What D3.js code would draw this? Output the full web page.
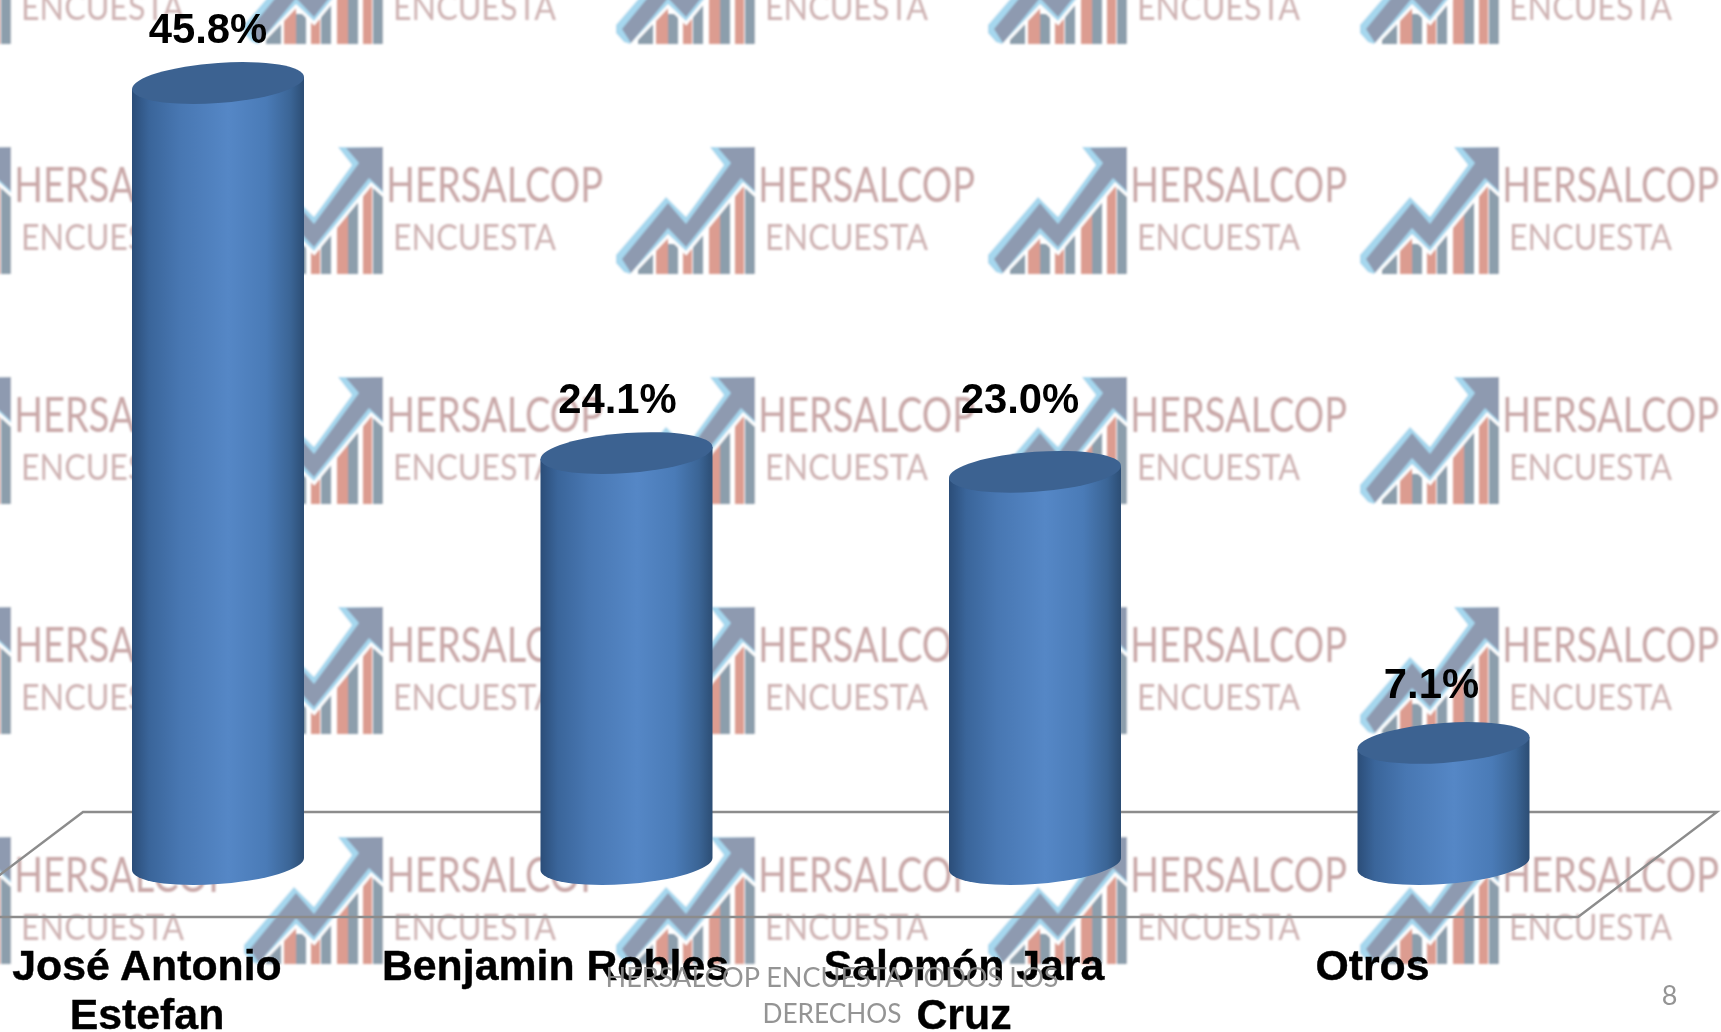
<!DOCTYPE html>
<html lang="es">
<head>
<meta charset="utf-8">
<script src="https://cdn.jsdelivr.net/npm/d3@7/dist/d3.min.js"></script>
<style>
html,body{margin:0;padding:0;background:#fff;overflow:hidden}
svg{display:block}
</style>
</head>
<body>
<svg id="c" width="1721" height="1032"></svg>
<script>
const categories = [["José Antonio","Estefan"],["Benjamin Robles"],["Salomón Jara","Cruz"],["Otros"]];
const values = [45.8,24.1,23.0,7.1];
const valueLabels = ["45.8%","24.1%","23.0%","7.1%"];
const footerLines = ["HERSALCOP ENCUESTA TODOS LOS","DERECHOS"];
const pageNumber = "8";
const watermarkTitle = "HERSALCOP";
const watermarkSub = "ENCUESTA";

// layout
const W=1721,H=1032;
const svg=d3.select("#c");
const defs=svg.append("defs");
const names=categories.map(c=>c.join(" "));
const x=d3.scalePoint().domain(names).range([218,1443.5]);
const y=d3.scaleLinear().domain([0,45.8]).range([864,83]);
const rx=86, ry=20, tilt=-6/86;
const labelShift=[[-10,40],[-9,40],[-15,59],[-12,45]];
const catShift=-71;

// cylinder gradient
const g=defs.append("linearGradient").attr("id","cyl").attr("x1",0).attr("x2",1).attr("y1",0).attr("y2",0);
[[0,"#2b4d78"],[.1,"#3a659a"],[.28,"#4877b2"],[.56,"#5587c6"],[.78,"#4a7bb7"],[.92,"#3b6596"],[1,"#2c4d74"]]
 .forEach(d=>g.append("stop").attr("offset",d[0]).attr("stop-color",d[1]));
defs.append("filter").attr("id","soft").attr("x","-5%").attr("y","-5%").attr("width","110%").attr("height","110%")
  .append("feGaussianBlur").attr("stdDeviation",0.95);

// watermark tile
const tile=defs.append("g").attr("id","tile");
const pink="#dc9c90", slate="#8c9eac", bottom=127;
[[40,52,85,pink],[52,62,97,slate],[67,76,97,pink],[77,87,80,slate],[93,104,60,pink],[104,114,48,slate],[119,128,32,pink],[129,139,32,slate],[22,37,100,slate]]
 .forEach(b=>tile.append("rect").attr("x",b[0]).attr("y",b[2]).attr("width",b[1]-b[0]).attr("height",bottom-b[2]).attr("fill",b[3]));
const outer="0,108 50,50 70,70 108,18 94,0 139,0 139,46 127,35 70,104 52,87 14,127 8,125 0,116";
tile.append("polygon").attr("fill","#fff").attr("stroke","#fff").attr("stroke-width",6).attr("points",outer);
tile.append("rect").attr("x",139).attr("y",0).attr("width",6).attr("height",130).attr("fill","#fff");
tile.append("polygon").attr("fill","#a6d7ee").attr("points",outer);
tile.append("polygon").attr("fill","#8e9ab0")
 .attr("points","6,112 52,56 70,77 115,16 102,1 139,0 139,44 125,31 70,100 52,81 15,126");
tile.append("text").text(watermarkTitle).attr("x",142).attr("y",55)
 .attr("font-family","Lato").attr("font-size",48).attr("fill","#c9a8a8")
 .attr("textLength",217).attr("lengthAdjust","spacingAndGlyphs");
tile.append("text").text(watermarkSub).attr("x",149).attr("y",103)
 .attr("font-family","Lato").attr("font-size",36).attr("fill","#cfb3b3")
 .attr("textLength",163).attr("lengthAdjust","spacingAndGlyphs");

const wm=svg.append("g").attr("filter","url(#soft)");
d3.range(-128,W,372).forEach(tx=>d3.range(-83,H,230).forEach(ty=>{
  wm.append("use").attr("href","#tile").attr("x",tx).attr("y",ty);
}));

// floor
svg.append("polygon").attr("points","83,812 1717,812 1578,917 -56,917")
 .attr("fill","none").attr("stroke","#8c8c8c").attr("stroke-width",2.4);

// cylinders: drawn in a sheared frame so that the ends tilt together
const bars=svg.append("g").selectAll("g").data(values).join("g").attr("class","bar");
const cyl=bars.append("g")
 .attr("transform",(v,i)=>`matrix(1,${tilt},0,1,${x(names[i])},0)`);
cyl.append("path")
 .attr("fill","url(#cyl)")
 .attr("d",v=>`M${-rx},${y(v)} L${rx},${y(v)} L${rx},${y(0)} A${rx},${ry} 0 0 1 ${-rx},${y(0)} Z`);
cyl.append("ellipse")
 .attr("cx",0).attr("cy",v=>y(v))
 .attr("rx",rx).attr("ry",ry).attr("fill","#3c6291");
bars.append("text")
 .text((v,i)=>valueLabels[i])
 .attr("x",(v,i)=>x(names[i])+labelShift[i][0])
 .attr("y",(v,i)=>y(v)-labelShift[i][1])
 .attr("text-anchor","middle")
 .attr("font-family","Liberation Sans").attr("font-weight","bold").attr("font-size",41.8).attr("fill","#000");

// category labels
const cats=svg.append("g").selectAll("text").data(categories).join("text")
 .attr("text-anchor","middle")
 .attr("font-family","Liberation Sans").attr("font-weight","bold").attr("font-size",42.8)
 .attr("fill","#000").attr("stroke","#000").attr("stroke-width",0.4);
cats.each(function(c,i){
  d3.select(this).selectAll("tspan").data(c).join("tspan")
   .attr("x",x(names[i])+catShift).attr("y",(d,j)=>980+j*49).text(d=>d);
});

// footer
const foot=svg.append("g").attr("font-family","Lato").attr("fill","#8b8b8b").attr("fill-opacity",.92).attr("font-size",27);
foot.selectAll("text").data(footerLines).join("text")
 .attr("x",832).attr("y",(d,i)=>987+i*36).attr("text-anchor","middle")
 .attr("textLength",(d,i)=>i?139:453).attr("lengthAdjust","spacingAndGlyphs").text(d=>d);
foot.append("text").text(pageNumber).attr("x",1669.5).attr("y",1005).attr("text-anchor","middle");
</script>
</body>
</html>
